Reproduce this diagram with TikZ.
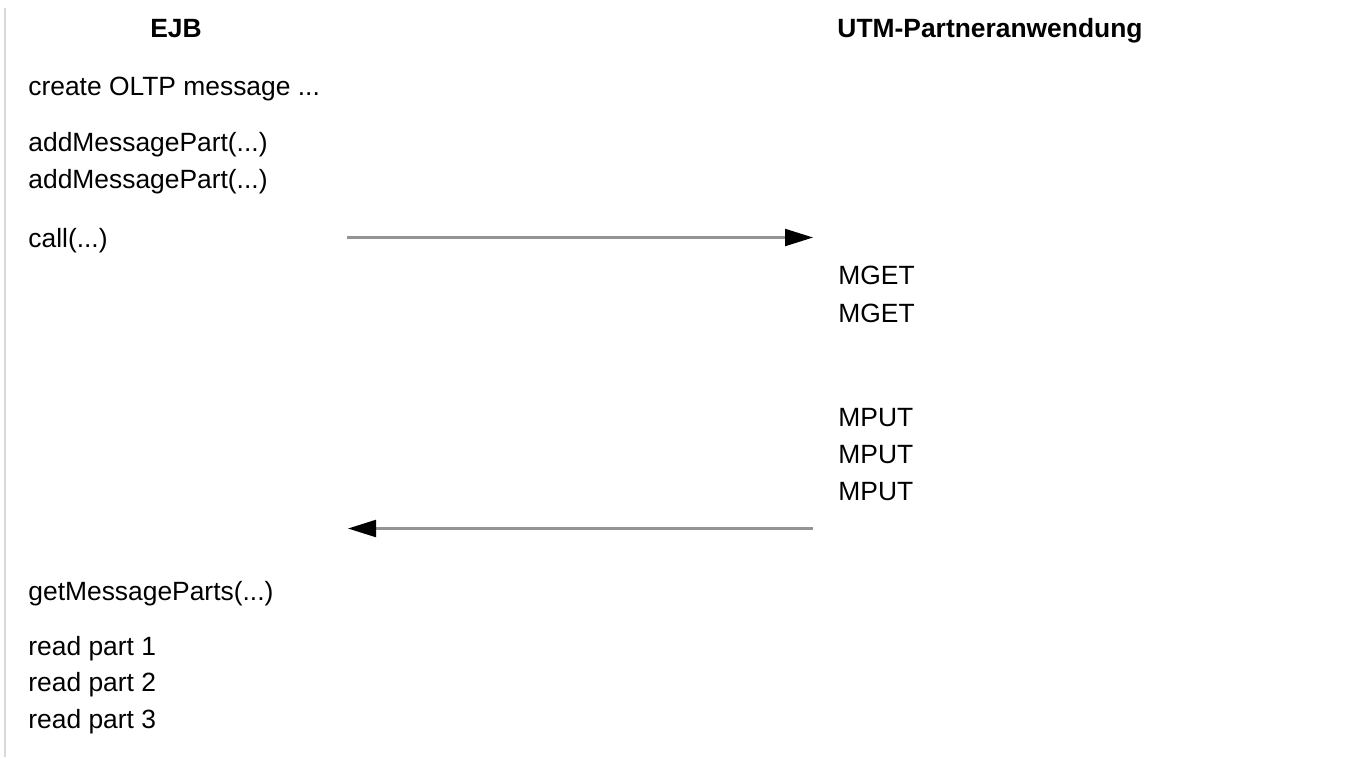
\documentclass[tikz,border=0pt]{standalone}
\usepackage{fontspec}
\setmainfont{Liberation Sans}
\usetikzlibrary{arrows.meta}
\usetikzlibrary{positioning}

\tikzset{
  lbl/.style={anchor=base west, inner sep=0pt, font=\fontsize{13.2}{15}\selectfont},
  hdr/.style={anchor=base, inner sep=0pt, font=\fontsize{13.2}{15}\selectfont\bfseries},
  msg/.style={draw=black!42, line width=1.1pt, -{Triangle[length=14pt,width=8.5pt,color=black]}}
}

\begin{document}
\begin{tikzpicture}[x=0.5pt,y=-0.5pt]
\useasboundingbox (0,0) rectangle (1354,757);
\draw[black!15, line width=0.8pt] (5,8) -- (5,757);
% headers
\node[hdr](ejb) at (176,37){EJB};
\node[hdr](utm) at (990,37){UTM-Partneranwendung};
% EJB side
\node[lbl](create) at (28,95){create OLTP message ...};
\node[lbl](add1) at (28,151){addMessagePart(...)};
\node[lbl](add2) at (28,188){addMessagePart(...)};
\node[lbl](call) at (28,247){call(...)};
\node[lbl](getparts) at (28,600){getMessageParts(...)};
\node[lbl](read1) at (28,655){read part 1};
\node[lbl](read2) at (28,691.5){read part 2};
\node[lbl](read3) at (28,728){read part 3};
% partner side
\node[lbl](mget1) at (838,284.5){MGET};
\node[lbl](mget2) at (838,322){MGET};
\node[lbl](mput1) at (838,426){MPUT};
\node[lbl](mput2) at (838,463){MPUT};
\node[lbl](mput3) at (838,500){MPUT};
% arrows
\coordinate (reqstart) at (347,237.5);
\coordinate (reqend) at (813,237.5);
\coordinate (repstart) at (813,528.5);
\coordinate (repend) at (348,528.5);
\draw[msg] (reqstart) -- (reqend);
\draw[msg] (repstart) -- (repend);
\end{tikzpicture}
\end{document}
